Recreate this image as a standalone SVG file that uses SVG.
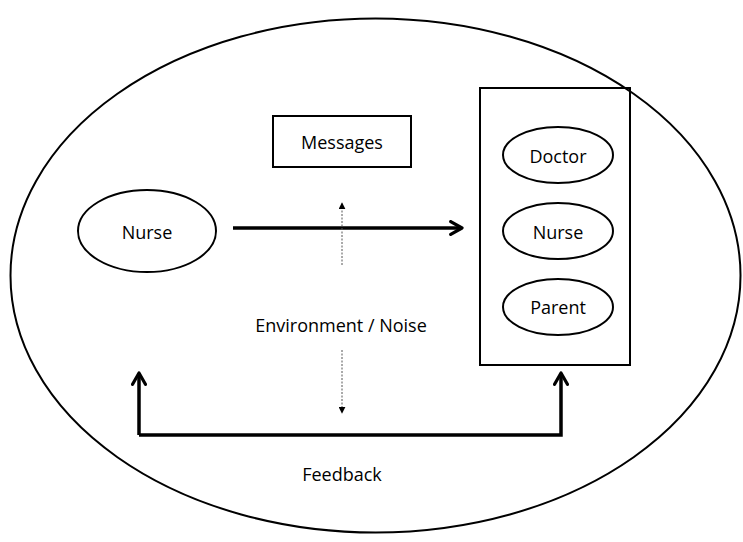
<svg xmlns="http://www.w3.org/2000/svg" width="743" height="542" viewBox="0 0 743 542">
  <style>
    .shape { fill: none; stroke: #000; stroke-width: 2; }
    .label { font-family: "Open Sans", "Noto Sans", sans-serif; font-size: 18px; fill: #000; text-anchor: middle; dominant-baseline: central; }
    .flow { fill: none; stroke: #000; stroke-width: 3.5; }
    .hint { fill: none; stroke: #555; stroke-width: 1; stroke-dasharray: 2 1.5; }
  </style>
  <defs>
    <marker id="chevron" viewBox="0 0 10 10" refX="8" refY="5" markerWidth="4.6" markerHeight="4.6" orient="auto" markerUnits="strokeWidth">
      <path d="M1,1 L8,5 L1,9" fill="none" stroke="#000" stroke-width="2" stroke-linecap="round" stroke-linejoin="round"/>
    </marker>
    <marker id="tri" viewBox="0 0 10 10" refX="9" refY="5" markerWidth="7" markerHeight="7" orient="auto" markerUnits="userSpaceOnUse">
      <path d="M0,0 L10,5 L0,10 Z" fill="#000"/>
    </marker>
  </defs>

  <rect width="743" height="542" fill="#fff"/>

  <!-- surrounding environment -->
  <g id="environment">
    <ellipse class="shape" cx="375.5" cy="275.5" rx="365" ry="257"/>
    <text class="label" x="341" y="325">Environment / Noise</text>
  </g>

  <g id="messages">
    <rect class="shape" x="273" y="116" width="138" height="51"/>
    <text class="label" x="342" y="142">Messages</text>
  </g>

  <g id="sender">
    <ellipse class="shape" cx="147" cy="231" rx="69" ry="41"/>
    <text class="label" x="147" y="232">Nurse</text>
  </g>

  <g id="receivers">
    <rect class="shape" x="480" y="88" width="150" height="277"/>
    <g id="doctor">
      <ellipse class="shape" cx="558" cy="155" rx="55" ry="28"/>
      <text class="label" x="558" y="156">Doctor</text>
    </g>
    <g id="nurse-receiver">
      <ellipse class="shape" cx="558" cy="231" rx="55" ry="28"/>
      <text class="label" x="558" y="232">Nurse</text>
    </g>
    <g id="parent">
      <ellipse class="shape" cx="558" cy="307" rx="55" ry="28"/>
      <text class="label" x="558" y="307">Parent</text>
    </g>
  </g>

  <g id="feedback-label">
    <text class="label" x="342" y="474">Feedback</text>
  </g>

  <!-- connectors -->
  <g id="connectors">
    <line class="flow" x1="233" y1="228" x2="462" y2="228" marker-end="url(#chevron)"/>
    <line class="hint" x1="342" y1="265" x2="342" y2="203" marker-end="url(#tri)"/>
    <line class="hint" x1="342" y1="350" x2="342" y2="413" marker-end="url(#tri)"/>
    <path class="flow" d="M139,435 L139,373" marker-end="url(#chevron)"/>
    <path class="flow" d="M139,435 L561,435 L561,373" marker-end="url(#chevron)"/>
  </g>
</svg>
